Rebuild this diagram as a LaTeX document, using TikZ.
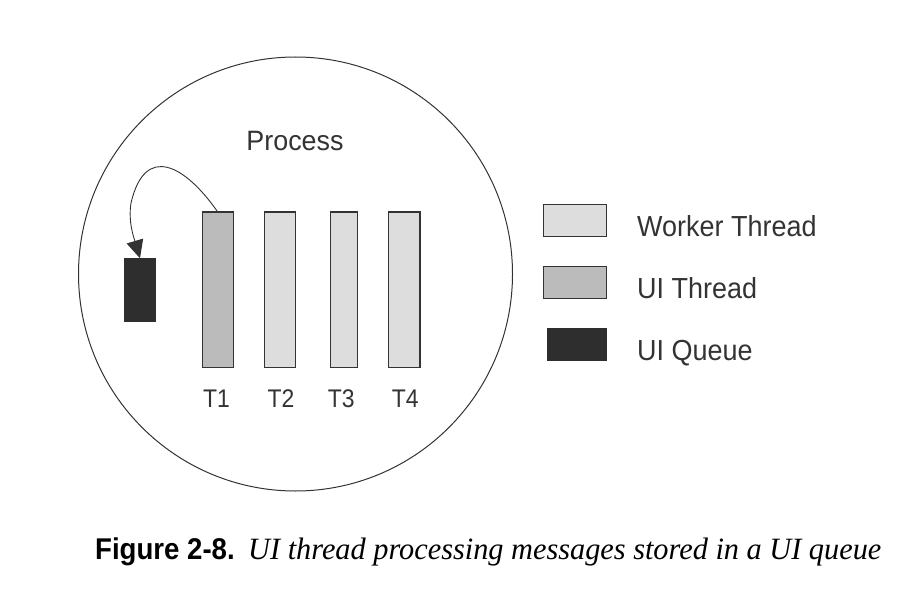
\documentclass[tikz,border=0pt]{standalone}
\usepackage{fontspec}
\setmainfont{Liberation Sans}
\newfontfamily\serifit{Liberation Serif}
\usetikzlibrary{arrows.meta}
\definecolor{ink}{HTML}{333333}
\definecolor{workerfill}{HTML}{DDDDDD}
\definecolor{uifill}{HTML}{BBBBBB}
\definecolor{queuefill}{HTML}{2E2E2E}
\tikzset{
  bar/.style={draw=ink, line width=1.3pt, inner sep=0pt, outer sep=0pt, minimum height=155.7pt},
  workerbar/.style={bar, fill=workerfill},
  uibar/.style={bar, fill=uifill},
  queuebox/.style={fill=queuefill, draw=none, inner sep=0pt, outer sep=0pt},
  legendbox/.style={draw=ink, line width=1.1pt, inner sep=0pt, outer sep=0pt, minimum width=63.4pt, minimum height=31.7pt},
  lbl/.style={text=ink, inner sep=0pt, anchor=base, font=\fontsize{25.5}{30}\selectfont},
  legtext/.style={text=ink, inner sep=0pt, anchor=base west, font=\fontsize{29}{34}\selectfont},
}
\begin{document}
\begin{tikzpicture}[x=1pt,y=-1pt]
\useasboundingbox (0,0) rectangle (915,615);
% process circle
\node[draw=ink, line width=1pt, circle, minimum size=434pt, inner sep=0pt] (proc) at (295.5,274) {};
\node[text=ink, inner sep=0pt, anchor=base, font=\fontsize{28}{33}\selectfont] (proclabel) at (295,150.7) {\scalebox{0.96}[1]{Process}};
% threads
\node[uibar, minimum width=31pt] (t1) at (217.8,289.9) {};
\node[workerbar, minimum width=31pt] (t2) at (280.2,289.9) {};
\node[workerbar, minimum width=26.6pt] (t3) at (344,289.9) {};
\node[workerbar, minimum width=31.3pt] (t4) at (404.3,289.9) {};
\node[lbl] (l1) at (216.4,407.3) {\scalebox{0.9}[1]{T1}};
\node[lbl] (l2) at (281,407.3) {\scalebox{0.9}[1]{T2}};
\node[lbl] (l3) at (341.2,407.3) {\scalebox{0.9}[1]{T3}};
\node[lbl] (l4) at (405.3,407.3) {\scalebox{0.9}[1]{T4}};
% queue
\node[queuebox, minimum width=32pt, minimum height=63.4pt] (q) at (140,290) {};
\coordinate (bend) at (131,203);
\draw[ink, line width=0.9pt, -{Triangle[length=18pt,width=17pt]}]
  (t1.north) .. controls (185,165) and (145,143) .. (bend)
  .. controls (128,222) and (134,238) .. (q.north);
% legend
\node[legendbox, fill=workerfill] (kw) at (575,220.2) {};
\node[legendbox, fill=uifill] (ku) at (575,282.5) {};
\node[queuebox, minimum width=59.4pt, minimum height=32.4pt] (kq) at (577,344.5) {};
\node[legtext] (tw) at (637,236) {\scalebox{0.93}[1]{Worker Thread}};
\node[legtext] (tu) at (637,298.3) {\scalebox{0.93}[1]{UI Thread}};
\node[legtext] (tq) at (637,360) {\scalebox{0.93}[1]{UI Queue}};
% caption
\node[inner sep=0pt, anchor=base west, font=\fontsize{30}{35}\selectfont\bfseries] (capnum) at (95,559) {\scalebox{0.92}[1]{Figure 2-8.}};
\node[inner sep=0pt, anchor=base west, font=\fontsize{31}{36}\selectfont\serifit\itshape] (captext) at (248,559) {\scalebox{0.978}[1]{UI thread processing messages stored in a UI queue}};
\end{tikzpicture}
\end{document}
